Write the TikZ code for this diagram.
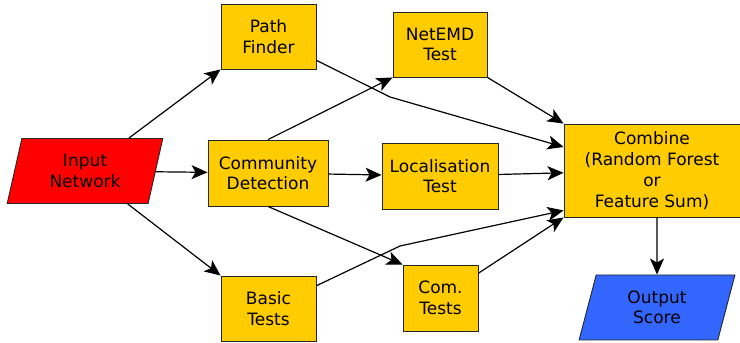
\documentclass[tikz,border=0pt]{standalone}
\usepackage{fontspec}
\setmainfont{DejaVu Sans}
\usetikzlibrary{shapes.geometric,arrows.meta}
\definecolor{boxyellow}{RGB}{255,204,0}
\definecolor{inred}{RGB}{255,0,0}
\definecolor{outblue}{RGB}{51,102,255}
\tikzset{
  stage/.style={draw=black!85, fill=boxyellow, line width=0.9pt, align=center,
    inner sep=0pt, minimum height=65pt, font=\fontsize{17}{20.5}\selectfont},
  io/.style={stage, trapezium, trapezium left angle=76, trapezium right angle=104,
    trapezium stretches=true, minimum width=156pt},
  flow/.style={line width=1.2pt, -{Stealth[length=16pt,width=14pt,inset=4pt]}},
}
\begin{document}
\begin{tikzpicture}[x=1pt,y=1pt]
        \useasboundingbox (0,0) rectangle (740,343);
        % inputs and outputs
        \node[io, fill=inred] (input) at (85,172) {Input\\Network};
        \node[io, fill=outblue] (output) at (657,35.5) {Output\\Score};
        % stages
        \node[stage, minimum width=120pt, minimum height=66pt] (cd) at (268,170) {Community\\Detection};
        \node[stage, minimum width=95pt] (path) at (268.5,306.5) {Path\\Finder};
        \node[stage, minimum width=95pt] (basic) at (268.5,34.5) {Basic\\Tests};
        \node[stage, minimum width=94pt] (netemd) at (440,298.5) {NetEMD\\Test};
        \node[stage, minimum width=116pt, minimum height=66pt] (loc) at (440,167) {Localisation\\Test};
        \node[stage, minimum width=75pt, minimum height=66pt] (com) at (440.5,45) {Com.\\Tests};
        \node[stage, minimum width=176pt, minimum height=93pt, font=\fontsize{17}{21}\selectfont] (combine) at (652,172.5) {Combine\\(Random Forest\\or\\Feature Sum)};
        \coordinate (pbend) at (390,246);
        \coordinate (bbend) at (400,97);
        % connectors
        \draw[flow] (input) -- (path.south west);
        \draw[flow] (input) -- (cd);
        \draw[flow] (input) -- (basic.north west);
        \draw[flow] (cd.north) -- (netemd.south west);
        \draw[flow] (cd) -- (loc);
        \draw[flow] (cd.south) -- (com.north west);
        \draw[flow] (path) -- (pbend) -- ([yshift=23.5pt]combine.west);
        \draw[flow] (netemd.south east) -- (combine.north west);
        \draw[flow] (loc) -- (combine);
        \draw[flow] (basic) -- (bbend) -- ([yshift=7pt]combine.south west);
        \draw[flow] (com) -- (combine.south west);
        \draw[flow] (output |- combine.south) -- (output);
    \end{tikzpicture}
\end{document}
